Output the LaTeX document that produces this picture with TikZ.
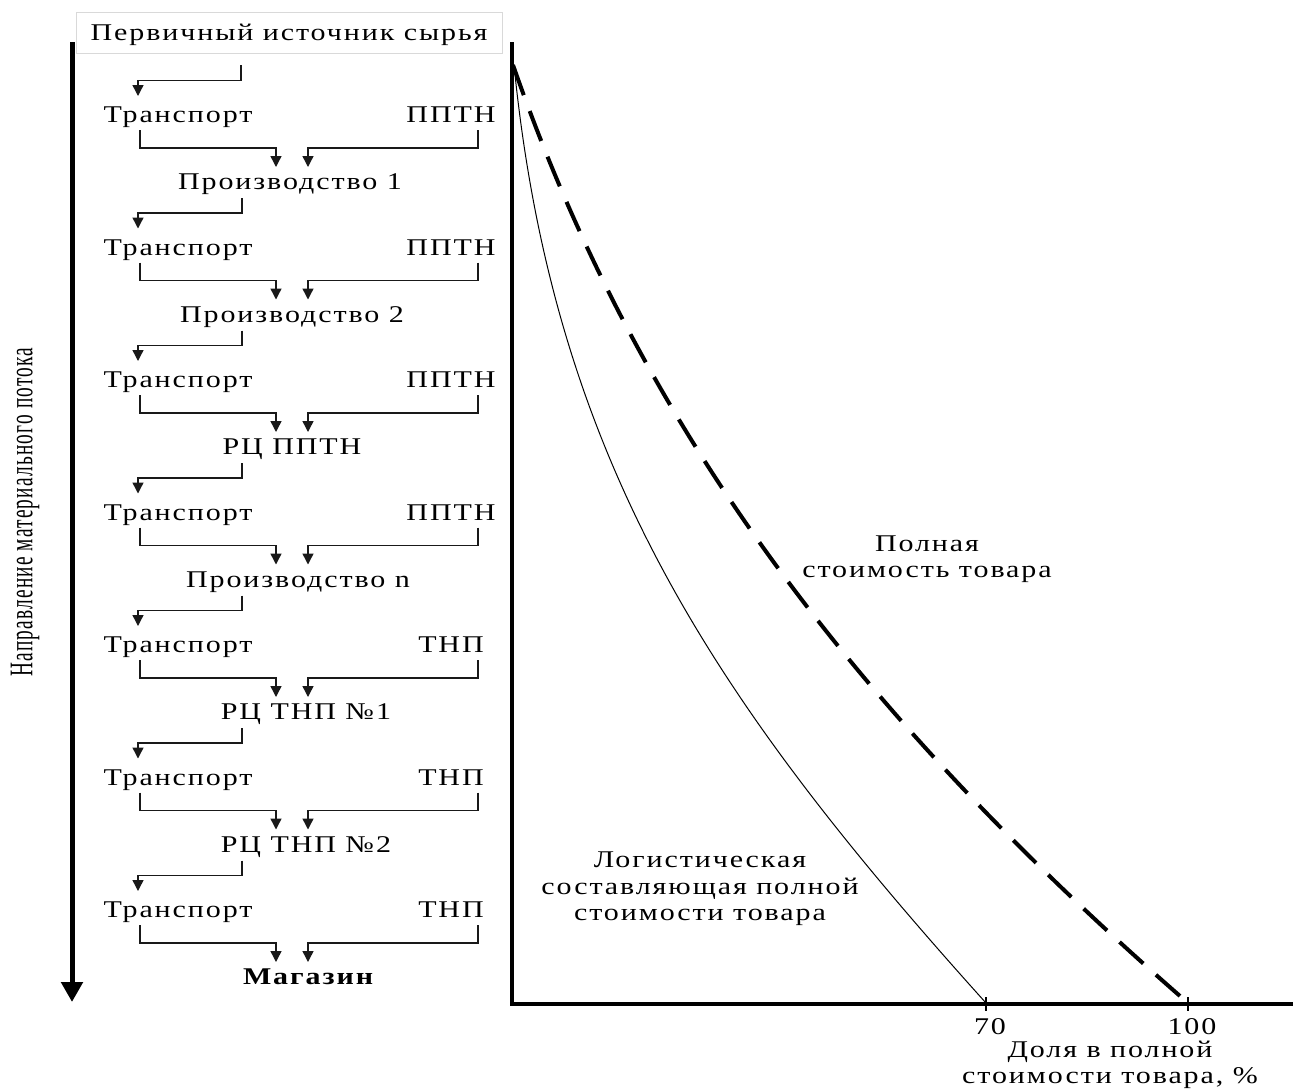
\documentclass[tikz,border=0pt]{standalone}
\usepackage{fontspec}
\setmainfont[FakeStretch=1.25, LetterSpace=8]{Liberation Serif}
\usetikzlibrary{arrows.meta}

\tikzset{
  lbl/.style={font=\fontsize{24}{24}\selectfont, inner sep=0pt, text height=19.5pt, text depth=4pt},
  note/.style={font=\fontsize{24}{26.5}\selectfont, align=center, inner sep=0pt},
  flow/.style={draw=black!90, line width=1.4pt, -{Triangle[width=11pt,length=11pt]}},
  axis/.style={line width=4.5pt},
}

\begin{document}
\begin{tikzpicture}[x=1pt,y=1pt]
\useasboundingbox (0,0) rectangle (1293,-1088);

% direction of the material flow
\coordinate (dirtop) at (72,-42);
\coordinate (dirend) at (72,-1002);
\draw[line width=5pt, -{Triangle[width=21pt,length=20pt]}] (dirtop) -- (dirend);
\node[rotate=90] (dirlbl) at (25,-512) {\fontsize{33}{33}\selectfont\resizebox{329pt}{\height}{Направление материального потока}};

% chain of stages
\node[lbl, draw=black!15, line width=0.8pt, minimum width=426pt, minimum height=41pt] (src) at (289,-32.5) {Первичный источник сырья};
\foreach \stage/\res/\mx [count=\k from 0] in {Производство 1/ППТН/290, Производство 2/ППТН/292, РЦ ППТН/ППТН/292, Производство n/ППТН/298, РЦ ТНП №1/ТНП/306, РЦ ТНП №2/ТНП/306, \textbf{Магазин}/ТНП/309}{
  \pgfmathsetmacro\ty{-115-132.5*\k}
  \pgfmathsetmacro\my{-182-132.5*\k}
  \node[lbl] (tr\k) at (178,\ty) {Транспорт};
  \node[lbl] (rs\k) at (451,\ty) {\res};
  \node[lbl] (st\k) at (\mx,\my) {\stage};
  \coordinate (in\k) at (292,\my+15);
  \coordinate (feed\k) at (138,\ty+19);
  \coordinate (out\k) at (242,\my-16);
  \draw[flow] ([shift={(-38,-15)}]tr\k.center) -- ++(0,-18) -| ([xshift=-16pt]in\k);
  \draw[flow] ([shift={(27,-15)}]rs\k.center) -- ++(0,-18) -| ([xshift=16pt]in\k);
}
\draw[flow] ([shift={(-48,-12)}]src.south) -- ++(0,-15) -| (feed0);
\foreach \k [evaluate=\k as \n using int(\k+1)] in {0,...,5}
  \draw[flow] (out\k) -- ++(0,-15) -| (feed\n);

% cost chart
\coordinate (ytop) at (512,-42);
\coordinate (O) at (512,-1004);
\coordinate (xend) at (1293,-1004);
\draw[axis] (ytop) -- (O) -- (xend);
\foreach \tx/\tl in {986/70, 1188/100}{
  \draw[line width=1.3pt] (\tx,-997) -- (\tx,-1011);
  \node[lbl] (tick\tl) at (\tx+4,-1027) {\tl};
}
\node[note] (xlbl) at (1110,-1065) {Доля в полной\\стоимости товара, \%};

% full cost and its logistic part
\coordinate (fullA) at (513,-65);
\coordinate (fullB) at (1188,-1003);
\coordinate (logA) at (514,-65);
\coordinate (logB) at (986,-1003);
\draw[line width=4pt, dash pattern=on 32pt off 17pt] (fullA) .. controls (635,-415) and (843,-703) .. (fullB);
\draw[line width=1pt] (logA) .. controls (554,-465) and (716,-703) .. (logB);
\node[note] (full) at (927,-559) {Полная\\стоимость товара};
\node[note] (logi) at (700,-889) {Логистическая\\составляющая полной\\стоимости товара};
\end{tikzpicture}
\end{document}
